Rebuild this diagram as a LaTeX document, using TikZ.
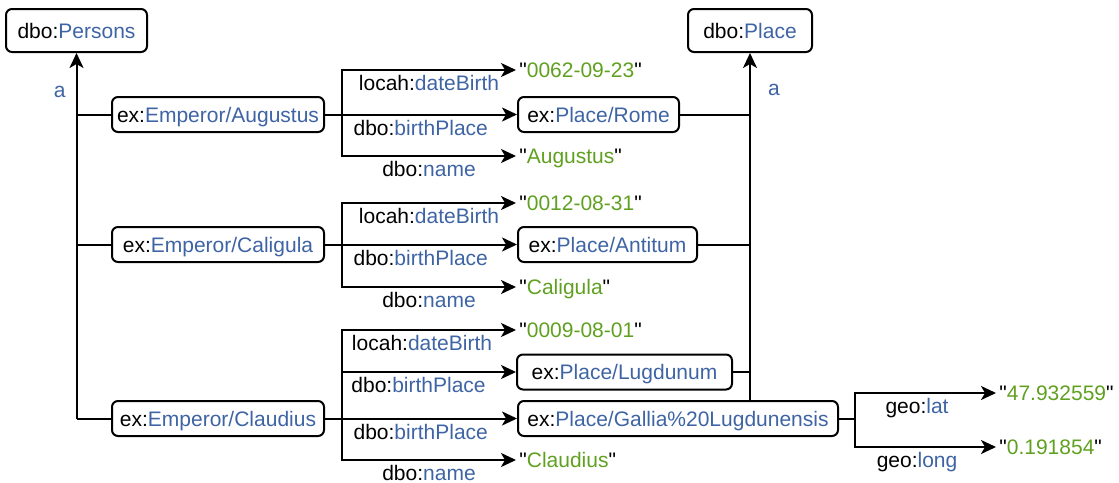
\documentclass[tikz,border=0pt]{standalone}
\usepackage{fontspec}
\setmainfont{Liberation Sans}
\usepackage{xcolor}
\usepackage{tikz}
\usetikzlibrary{positioning,arrows.meta}

\definecolor{rdfblue}{RGB}{62,100,164}
\definecolor{litgreen}{RGB}{96,160,32}

\newcommand{\qn}[2]{#1:\textcolor{rdfblue}{#2}}
\newcommand{\rdflit}[1]{\textquotedbl\textcolor{litgreen}{#1}\textquotedbl}

\begin{document}
\begin{tikzpicture}[x=0.5pt,y=-0.5pt,
    every node/.style={font=\fontsize{10.5}{12.6}\selectfont, text height=7.6pt, text depth=0pt},
    box/.style={draw, line width=1pt, rounded corners=3pt, minimum height=17.5pt, inner sep=2pt},
    lit/.style={anchor=west, inner sep=1.5pt},
    lbl/.style={anchor=north, inner sep=2.2pt},
    typ/.style={inner sep=0pt, text=rdfblue},
    conn/.style={line width=1pt},
    arr/.style={line width=1pt, -{Stealth[length=7.5pt,width=7pt,inset=2pt]}}]
    \useasboundingbox (0,0) rectangle (1119,482);

    % Classes
    \node[box, minimum width=70.5pt, minimum height=21.5pt] (persons) at (76.5,30.5) {\qn{dbo}{Persons}};
    \node[box, minimum width=62pt, minimum height=21.5pt] (place) at (750,30.5) {\qn{dbo}{Place}};

    % Augustus
    \node[box, minimum width=106pt] (aug) at (218,114.5) {\qn{ex}{Emperor/Augustus}};
    \coordinate (augB) at (342,114.5);
    \node[lit] (augDate) at (516,70) {\rdflit{0062-09-23}};
    \node[box, minimum width=80.5pt] (rome) at (598.5,114.5) {\qn{ex}{Place/Rome}};
    \node[lit] (augName) at (516,156) {\rdflit{Augustus}};

    % Caligula
    \node[box, minimum width=106pt] (cal) at (218,244.5) {\qn{ex}{Emperor/Caligula}};
    \coordinate (calB) at (342,244.5);
    \node[lit] (calDate) at (516,203) {\rdflit{0012-08-31}};
    \node[box, minimum width=89.5pt] (antitum) at (607.5,244.5) {\qn{ex}{Place/Antitum}};
    \node[lit] (calName) at (516,287) {\rdflit{Caligula}};

    % Claudius
    \node[box, minimum width=106pt] (claud) at (218,418.5) {\qn{ex}{Emperor/Claudius}};
    \coordinate (claudB) at (342,418.5);
    \node[lit] (claudDate) at (516,330) {\rdflit{0009-08-01}};
    \node[box, minimum width=107.5pt] (lugd) at (624.5,372) {\qn{ex}{Place/Lugdunum}};
    \node[box, minimum width=160pt] (gallia) at (678,418.5) {\qn{ex}{Place/Gallia\%20Lugdunensis}};
    \node[lit] (claudName) at (516,460) {\rdflit{Claudius}};

    % Coordinates of Gallia Lugdunensis
    \coordinate (geoB) at (855,418.5);
    \node[lit] (lat) at (996,393) {\rdflit{47.932559}};
    \node[lit] (long) at (996,447) {\rdflit{0.191854}};

    % rdf:type dbo:Persons
    \draw[arr] (claud.west -| persons.south) -- (persons.south) node[typ, pos=0.9, left=5pt] {a};
    \draw[conn] (aug.west) -- (aug.west -| persons.south);
    \draw[conn] (cal.west) -- (cal.west -| persons.south);
    \draw[conn] (claud.west) -- (claud.west -| persons.south);

    % rdf:type dbo:Place
    \draw[arr] (gallia.north -| place.south) -- (place.south) node[typ, pos=0.9, right=8.5pt] {a};
    \draw[conn] (rome.east) -- (rome.east -| place.south);
    \draw[conn] (antitum.east) -- (antitum.east -| place.south);
    \draw[conn] (lugd.east) -- (lugd.east -| place.south);

    % Augustus properties
    \draw[conn] (aug.east) -- (augB);
    \draw[arr] (augB) |- (augDate) node[lbl, pos=0.75] {\qn{locah}{dateBirth}};
    \draw[arr] (augB) -- (rome) node[lbl, pos=0.45] {\qn{dbo}{birthPlace}};
    \draw[arr] (augB) |- (augName) node[lbl, pos=0.75] {\qn{dbo}{name}};

    % Caligula properties
    \draw[conn] (cal.east) -- (calB);
    \draw[arr] (calB) |- (calDate) node[lbl, pos=0.75] {\qn{locah}{dateBirth}};
    \draw[arr] (calB) -- (antitum) node[lbl, pos=0.45] {\qn{dbo}{birthPlace}};
    \draw[arr] (calB) |- (calName) node[lbl, pos=0.75] {\qn{dbo}{name}};

    % Claudius properties
    \draw[conn] (claud.east) -- (claudB);
    \draw[arr] (claudB) |- (claudDate) node[lbl, pos=0.73] {\qn{locah}{dateBirth}};
    \draw[arr] (claudB) |- (lugd) node[lbl, pos=0.72] {\qn{dbo}{birthPlace}};
    \draw[arr] (claudB) -- (gallia) node[lbl, pos=0.45] {\qn{dbo}{birthPlace}};
    \draw[arr] (claudB) |- (claudName) node[lbl, pos=0.75] {\qn{dbo}{name}};

    % geo properties
    \draw[conn] (gallia.east) -- (geoB);
    \draw[arr] (geoB) |- (lat) node[lbl, pos=0.72] {\qn{geo}{lat}};
    \draw[arr] (geoB) |- (long) node[lbl, pos=0.72] {\qn{geo}{long}};
\end{tikzpicture}
\end{document}
